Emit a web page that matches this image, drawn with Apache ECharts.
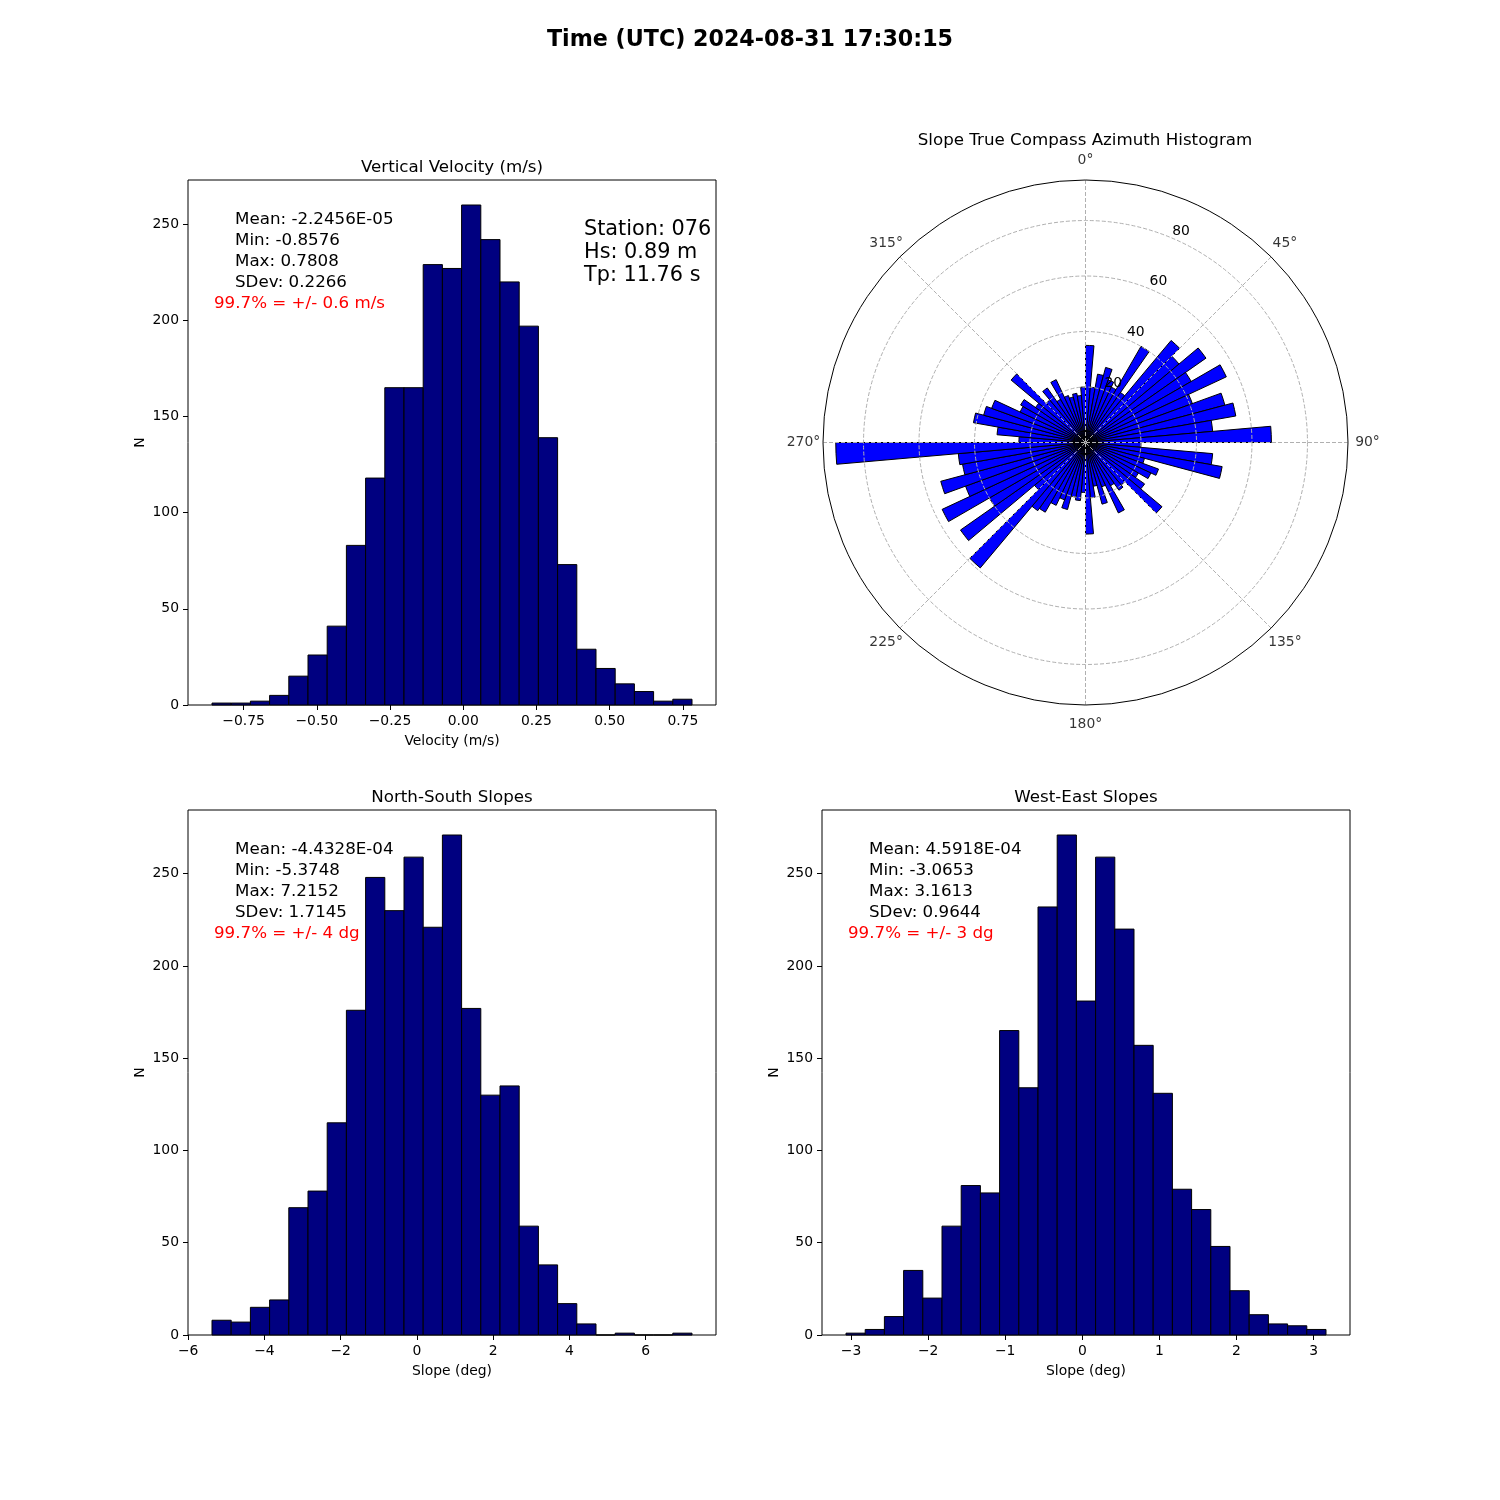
<!DOCTYPE html>
<html>
<head>
<meta charset="utf-8">
<script src="https://cdn.jsdelivr.net/npm/echarts@6/dist/echarts.min.js"></script>
<style>
  html, body { margin: 0; padding: 0; background: #fff; }
  #chart { width: 1500px; height: 1500px; }
</style>
</head>
<body>
<div id="chart"></div>
<script>
// ---- data ----
var figTitle = 'Time (UTC) 2024-08-31 17:30:15';

// vertical velocity histogram (25 bins between min and max)
var vvMin = -0.8576, vvMax = 0.7808;
var vvCounts = [1, 1, 2, 5, 15, 26, 41, 83, 118, 165, 165, 229, 227, 260, 242, 220, 197, 139, 73, 29, 19, 11, 7, 2, 3];
var vvTicks = [-0.75, -0.5, -0.25, 0, 0.25, 0.5, 0.75];
var vvStats = ['Mean: -2.2456E-05', 'Min: -0.8576', 'Max: 0.7808', 'SDev: 0.2266'];
var vvRange = '99.7% = +/- 0.6 m/s';
var stationLines = ['Station: 076', 'Hs: 0.89 m', 'Tp: 11.76 s'];

// north-south slopes
var nsMin = -5.3748, nsMax = 7.2152;
var nsCounts = [8, 7, 15, 19, 69, 78, 115, 176, 248, 230, 259, 221, 271, 177, 130, 135, 59, 38, 17, 6, 0, 1, 0, 0, 1];
var nsTicks = [-6, -4, -2, 0, 2, 4, 6];
var nsStats = ['Mean: -4.4328E-04', 'Min: -5.3748', 'Max: 7.2152', 'SDev: 1.7145'];
var nsRange = '99.7% = +/- 4 dg';

// west-east slopes
var weMin = -3.0653, weMax = 3.1613;
var weCounts = [1, 3, 10, 35, 20, 59, 81, 77, 165, 134, 232, 271, 181, 259, 220, 157, 131, 79, 68, 48, 24, 11, 6, 5, 3];
var weTicks = [-3, -2, -1, 0, 1, 2, 3];
var weStats = ['Mean: 4.5918E-04', 'Min: -3.0653', 'Max: 3.1613', 'SDev: 0.9644'];
var weRange = '99.7% = +/- 3 dg';

var countTicks = [0, 50, 100, 150, 200, 250];

// azimuth histogram, 5 degree bins
var azBins = [0, 5, 10, 15, 20, 25, 30, 35, 40, 45, 50, 55, 60, 65, 70, 75, 80, 85,
  90, 95, 100, 105, 110, 115, 120, 125, 130, 135, 140, 145, 150, 155, 160, 165, 170, 175,
  180, 185, 190, 195, 200, 205, 210, 215, 220, 225, 230, 235, 240, 245, 250, 255, 260, 265,
  270, 275, 280, 285, 290, 295, 300, 305, 310, 315, 320, 325, 330, 335, 340, 345, 350, 355];
var azCounts = [35, 20, 25, 28, 24, 22, 40, 22, 48, 44, 53, 44, 56, 41, 52, 55, 46, 67,
  20, 46, 50, 22, 28, 26, 22, 26, 36, 20, 21, 18, 28, 17, 23, 16, 20, 33,
  18, 21, 20, 25, 22, 25, 29, 30, 59, 24, 55, 40, 57, 46, 54, 45, 46, 90,
  24, 32, 41, 38, 36, 26, 27, 22, 35, 20, 24, 18, 25, 18, 17, 18, 17, 20];
var angleTicks = [0, 45, 90, 135, 180, 225, 270, 315];

// ---- helpers ----
var FONT = '"DejaVu Sans", sans-serif';
var nBins = 25;

function binData(lo, hi, counts) {
  var w = (hi - lo) / nBins;
  return counts.map(function (c, i) { return [lo + i * w, lo + (i + 1) * w, c]; });
}

function renderBin(params, api) {
  var top = api.coord([api.value(0), api.value(2)]);
  var bot = api.coord([api.value(1), 0]);
  return {
    type: 'rect',
    shape: { x: top[0], y: top[1], width: bot[0] - top[0], height: bot[1] - top[1] },
    style: { fill: '#000080', stroke: '#000000', lineWidth: 1 }
  };
}

function minusFmt(dec) {
  return function (v) {
    var s = Math.abs(v).toFixed(dec);
    return (v < 0 ? '\u2212' : '') + s;
  };
}

function xAxisFor(gi, lo, hi, ticks, dec, name) {
  var pad = (hi - lo) * 0.05;
  return {
    type: 'value', gridIndex: gi, min: lo - pad, max: hi + pad,
    name: name, nameLocation: 'middle', nameGap: 29,
    nameTextStyle: { fontFamily: FONT, fontSize: 13.9, color: '#000' },
    axisLine: { show: false, onZero: false },
    axisTick: { show: true, length: 5, customValues: ticks, lineStyle: { color: '#000' } },
    axisLabel: { customValues: ticks, formatter: minusFmt(dec), margin: 9, fontFamily: FONT, fontSize: 13.9, color: '#000' },
    splitLine: { show: false }
  };
}

function yAxisFor(gi, maxCount) {
  return {
    type: 'value', gridIndex: gi, min: 0, max: maxCount * 1.05,
    name: 'N', nameLocation: 'middle', nameGap: 41, nameRotate: 90,
    nameTextStyle: { fontFamily: FONT, fontSize: 13.9, color: '#000' },
    axisLine: { show: false, onZero: false },
    axisTick: { show: true, length: 5, customValues: countTicks, lineStyle: { color: '#000' } },
    axisLabel: { customValues: countTicks, margin: 9, fontFamily: FONT, fontSize: 13.9, color: '#000' },
    splitLine: { show: false }
  };
}

function text(str, x, y, size, opts) {
  opts = opts || {};
  return {
    type: 'text', x: x, y: y + 2, z: 20,
    style: {
      text: str,
      font: (opts.bold ? 'bold ' : '') + size + 'px ' + FONT,
      fill: opts.color || '#000',
      textAlign: opts.align || 'left', align: opts.align || 'left',
      textVerticalAlign: 'middle', verticalAlign: 'middle'
    }
  };
}

function statBlock(lines, red, x, y0) {
  var out = [];
  lines.forEach(function (s, i) { out.push(text(s, x, y0 + i * 21, 16.7)); });
  out.push(text(red, x - 21, y0 + lines.length * 21, 16.7, { color: '#ff0000' }));
  return out;
}

var graphics = [
  text(figTitle, 750, 38, 22.2, { bold: true, align: 'center' }),
  text('Vertical Velocity (m/s)', 452, 166, 16.7, { align: 'center' }),
  text('Slope True Compass Azimuth Histogram', 1085, 139, 16.7, { align: 'center' }),
  text('North-South Slopes', 452, 796, 16.7, { align: 'center' }),
  text('West-East Slopes', 1086, 796, 16.7, { align: 'center' })
];
graphics = graphics.concat(statBlock(vvStats, vvRange, 235, 218));
graphics = graphics.concat(statBlock(nsStats, nsRange, 235, 848));
graphics = graphics.concat(statBlock(weStats, weRange, 869, 848));
stationLines.forEach(function (s, i) { graphics.push(text(s, 584, 228 + i * 23, 20.8)); });

var chart = echarts.init(document.getElementById('chart'), null, { renderer: 'canvas' });

var polarCenter = [1085.5, 442.5];
var polarR = 262.5;
var rMax = 94.6;
var dashed = { color: '#b0b0b0', width: 1, type: [4, 2] };

chart.setOption({
  animation: false,
  backgroundColor: '#ffffff',
  textStyle: { fontFamily: FONT },
  grid: [
    { left: 188, top: 180, width: 528, height: 525, show: true, borderColor: '#000', borderWidth: 1, backgroundColor: 'transparent' },
    { left: 188, top: 810, width: 528, height: 525, show: true, borderColor: '#000', borderWidth: 1, backgroundColor: 'transparent' },
    { left: 822, top: 810, width: 528, height: 525, show: true, borderColor: '#000', borderWidth: 1, backgroundColor: 'transparent' }
  ],
  xAxis: [
    xAxisFor(0, vvMin, vvMax, vvTicks, 2, 'Velocity (m/s)'),
    xAxisFor(1, nsMin, nsMax, nsTicks, 0, 'Slope (deg)'),
    xAxisFor(2, weMin, weMax, weTicks, 0, 'Slope (deg)')
  ],
  yAxis: [
    yAxisFor(0, Math.max.apply(null, vvCounts)),
    yAxisFor(1, Math.max.apply(null, nsCounts)),
    yAxisFor(2, Math.max.apply(null, weCounts))
  ],
  polar: [
    { center: polarCenter, radius: polarR },
    { center: polarCenter, radius: polarR * 80 / rMax },
    { center: polarCenter, radius: polarR },
    { center: polarCenter, radius: polarR + 19.5 }
  ],
  angleAxis: [
    { polarIndex: 0, type: 'category', data: azBins, startAngle: 90, clockwise: true, boundaryGap: true, show: false },
    { polarIndex: 1, type: 'value', min: 0, max: 360, startAngle: 66, show: false },
    {
      polarIndex: 2, type: 'value', min: 0, max: 360, interval: 45, startAngle: 90, clockwise: true, z: 5,
      axisLine: { show: true, lineStyle: { color: '#000', width: 1 } },
      axisTick: { show: false },
      axisLabel: { show: false },
      splitLine: { show: true, lineStyle: dashed }
    },
    { polarIndex: 3, type: 'value', min: 0, max: 360, startAngle: 90, clockwise: true, show: false }
  ],
  radiusAxis: [
    { polarIndex: 0, type: 'value', min: 0, max: rMax, show: false },
    {
      polarIndex: 1, type: 'value', min: 0, max: 80, interval: 20, z: 5,
      axisLine: { show: false }, axisTick: { show: false },
      axisLabel: { showMinLabel: false, margin: 4, align: 'left', verticalAlign: 'bottom', fontFamily: FONT, fontSize: 13.9, color: '#000' },
      splitLine: { show: true, lineStyle: dashed }
    },
    { polarIndex: 2, type: 'value', min: 0, max: 1, show: false },
    { polarIndex: 3, type: 'value', min: 0, max: 1, show: false }
  ],
  series: [
    { type: 'custom', xAxisIndex: 0, yAxisIndex: 0, renderItem: renderBin, encode: { x: [0, 1], y: 2 }, data: binData(vvMin, vvMax, vvCounts) },
    { type: 'custom', xAxisIndex: 1, yAxisIndex: 1, renderItem: renderBin, encode: { x: [0, 1], y: 2 }, data: binData(nsMin, nsMax, nsCounts) },
    { type: 'custom', xAxisIndex: 2, yAxisIndex: 2, renderItem: renderBin, encode: { x: [0, 1], y: 2 }, data: binData(weMin, weMax, weCounts) },
    {
      type: 'bar', coordinateSystem: 'polar', polarIndex: 0, data: azCounts,
      barCategoryGap: '0%', z: 2,
      itemStyle: { color: '#0000ff', borderColor: '#000000', borderWidth: 1 }
    },
    {
      // angle tick labels, centred just outside the outer circle
      type: 'scatter', coordinateSystem: 'polar', polarIndex: 3, silent: true,
      symbolSize: 1, itemStyle: { color: 'rgba(0,0,0,0)' },
      data: angleTicks.map(function (a) { return [1, a]; }),
      label: {
        show: true, position: 'inside', color: '#000', fontFamily: FONT, fontSize: 13.9,
        formatter: function (p) { return p.value[1] + '\u00b0'; }
      }
    }
  ],
  graphic: { elements: graphics }
});

window.addEventListener('resize', function () { chart.resize(); });
</script>
</body>
</html>
